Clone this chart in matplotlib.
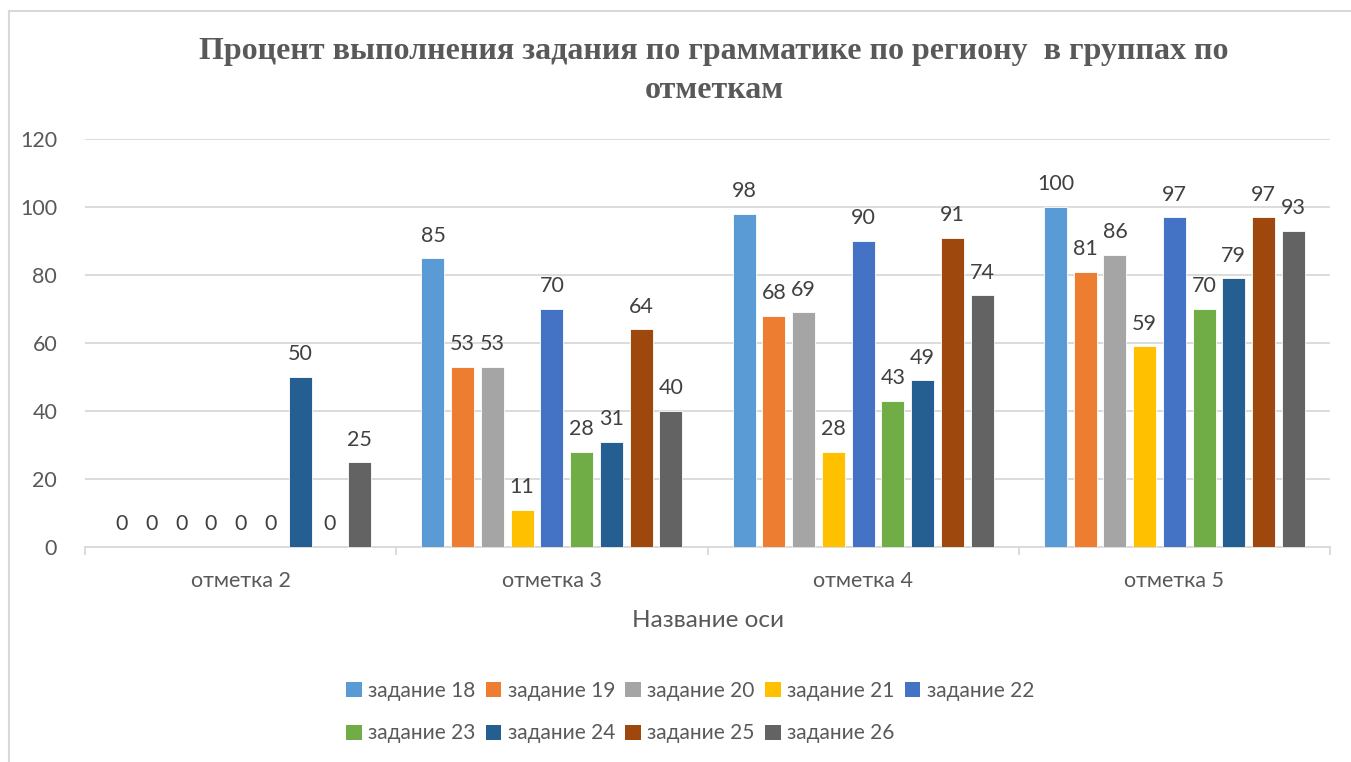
import numpy as np
import matplotlib.pyplot as plt
from matplotlib.lines import Line2D
from matplotlib.patches import Patch

plt.rcParams['font.family'] = ['Lato', 'DejaVu Sans']

categories = ['отметка 2', 'отметка 3', 'отметка 4', 'отметка 5']
series_names = ['задание 18', 'задание 19', 'задание 20', 'задание 21', 'задание 22',
                'задание 23', 'задание 24', 'задание 25', 'задание 26']
zad18 = [0, 85, 98, 100]
zad19 = [0, 53, 68, 81]
zad20 = [0, 53, 69, 86]
zad21 = [0, 11, 28, 59]
zad22 = [0, 70, 90, 97]
zad23 = [0, 28, 43, 70]
zad24 = [50, 31, 49, 79]
zad25 = [0, 64, 91, 97]
zad26 = [25, 40, 74, 93]
values = [zad18, zad19, zad20, zad21, zad22, zad23, zad24, zad25, zad26]
colors = ['#5B9BD5', '#ED7D31', '#A5A5A5', '#FFC000', '#4472C4',
          '#70AD47', '#255E91', '#9E480E', '#636363']

fig = plt.figure(figsize=(13.51, 7.62), dpi=100)
ax = fig.add_axes([85/1351, 1-547/762, 1245/1351, 408/762])

x = np.arange(len(categories))
slot = 0.0955
width = 0.074
for i, (name, vals, c) in enumerate(zip(series_names, values, colors)):
    pos = x + (i - 4) * slot
    ax.bar(pos, vals, width, color=c, edgecolor='white', linewidth=0.6, zorder=3)
    for px, v in zip(pos, vals):
        ax.annotate(str(v), (px, v), xytext=(0, 9), textcoords='offset points',
                    ha='center', va='bottom', fontsize=15.5, color='#404040')

ax.set_xlim(-0.5, 3.5)
ax.set_ylim(0, 120)
ax.set_yticks(range(0, 121, 20))
ax.yaxis.grid(True, color='#D9D9D9', linewidth=1.3, zorder=0)
ax.set_axisbelow(True)
for s in ['top', 'right', 'left']:
    ax.spines[s].set_visible(False)
ax.spines['bottom'].set_color('#D9D9D9')
ax.spines['bottom'].set_linewidth(1.3)
ax.tick_params(axis='y', length=0, labelsize=15.5, labelcolor='#595959', pad=20)
ax.set_xticks(x)
ax.set_xticklabels(categories)
ax.tick_params(axis='x', which='major', length=0, labelsize=15.5, labelcolor='#595959', pad=17)
ax.set_xticks(np.arange(-0.5, 3.6, 1), minor=True)
ax.tick_params(axis='x', which='minor', length=6, color='#D9D9D9', width=1.3)
ax.set_xlabel('Название оси', fontsize=17.5, color='#595959', labelpad=14)

fig.text(714/1351, 1-71/762, 'Процент выполнения задания по грамматике по региону  в группах по\nотметкам',
         ha='center', va='center', fontsize=23, fontweight='bold', color='#595959',
         family=['Liberation Serif', 'DejaVu Serif'], linespacing=1.45)

# legend: Excel fills rows left to right, matplotlib fills columns -> reorder
handles = [Patch(facecolor=c, edgecolor='none') for c in colors]
order = [0, 5, 1, 6, 2, 7, 3, 8, 4]
fig.legend([handles[k] for k in order], [series_names[k] for k in order],
           loc='center', ncol=5, bbox_to_anchor=(690/1351, 1-712/762), frameon=False,
           fontsize=15, handlelength=0.75, handleheight=0.75, handletextpad=0.3,
           columnspacing=0.5, labelspacing=1.1, labelcolor='#595959')

# chart border
fig.add_artist(Line2D([8.5/1351, 1], [1-11/762, 1-11/762], color='#D9D9D9', linewidth=1.5))
fig.add_artist(Line2D([8.5/1351, 8.5/1351], [0, 1-11/762], color='#D9D9D9', linewidth=1.5))

fig.savefig('out.png', dpi=100, facecolor='white')
